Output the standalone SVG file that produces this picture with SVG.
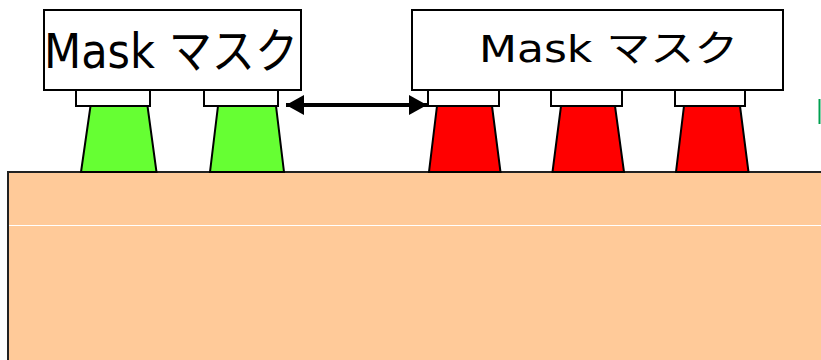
<svg xmlns="http://www.w3.org/2000/svg" width="821" height="360" viewBox="0 0 821 360">
<style>
.box{fill:#fff;stroke:#000;stroke-width:2}
.g{fill:#66FF33;stroke:#000;stroke-width:2;stroke-linejoin:miter}
.r{fill:#FF0000;stroke:#000;stroke-width:2;stroke-linejoin:miter}
.lbl{font-family:"DejaVu Sans","Noto Sans CJK JP",sans-serif;font-size:44px;fill:#000}
</style>
<defs>
<marker id="ah" viewBox="0 0 18 20" refX="18" refY="10" markerWidth="18" markerHeight="20" markerUnits="userSpaceOnUse" orient="auto-start-reverse">
<path d="M0,0 L18,10 L0,20 Z" fill="#000"/>
</marker>
</defs>
<g id="substrate">
<rect x="8" y="172" width="830" height="200" fill="#FFCA99" stroke="#222" stroke-width="2"/>
<line x1="9" y1="225.5" x2="821" y2="225.5" stroke="#fff" stroke-width="1"/>
</g>
<g id="green1">
<polygon class="g" points="90.5,106 147.5,106 156.5,172 81,172"/>
<rect class="box" x="76" y="90" width="74" height="16"/>
</g>
<g id="green2">
<polygon class="g" points="218,106 276,106 284,172 210,172"/>
<rect class="box" x="204" y="90" width="74" height="16"/>
</g>
<g id="red1">
<polygon class="r" points="437,106 492,106 500.5,172 429,172"/>
<rect class="box" x="428" y="90" width="71" height="16"/>
</g>
<g id="red2">
<polygon class="r" points="561,106 615,106 624,172 552.5,172"/>
<rect class="box" x="551" y="90" width="71" height="16"/>
</g>
<g id="red3">
<polygon class="r" points="684,106 740,106 748.5,172 676,172"/>
<rect class="box" x="675" y="90" width="70" height="16"/>
</g>
<g id="mask1">
<rect class="box" x="44" y="10" width="257" height="80"/>
<text class="lbl" transform="translate(44,68) scale(0.98,1.09)" x="0" y="0">Mask マスク</text>
</g>
<g id="mask2">
<rect class="box" x="412" y="10" width="371" height="80"/>
<text class="lbl" transform="translate(479,62) scale(1,0.84)" x="0" y="0">Mask マスク</text>
</g>
<g id="connectors">
<line x1="286" y1="105" x2="427" y2="105" stroke="#000" stroke-width="4" marker-start="url(#ah)" marker-end="url(#ah)"/>
</g>
<line x1="819.5" y1="99" x2="819.5" y2="124" stroke="#00A050" stroke-width="2"/>
</svg>
